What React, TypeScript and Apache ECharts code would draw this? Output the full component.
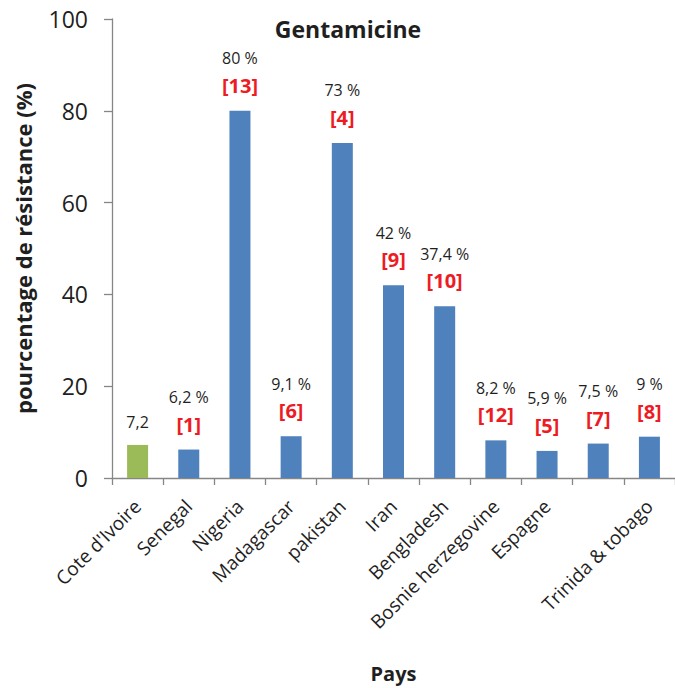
import React, { useEffect, useRef } from "react";
import * as echarts from "echarts";

const categories = [
  "Cote d'Ivoire",
  "Senegal",
  "Nigeria",
  "Madagascar",
  "pakistan",
  "Iran",
  "Bengladesh",
  "Bosnie herzegovine",
  "Espagne",
  "",
  "Trinida & tobago",
];
const values = [7.2, 6.2, 80, 9.1, 73, 42, 37.4, 8.2, 5.9, 7.5, 9];
const percentLabels = ["7,2", "6,2 %", "80 %", "9,1 %", "73 %", "42 %", "37,4 %", "8,2 %", "5,9 %", "7,5 %", "9 %"];
const refLabels = ["", "[1]", "[13]", "[6]", "[4]", "[9]", "[10]", "[12]", "[5]", "[7]", "[8]"];
const barColors = ["#9bbb59", "#4f81bd", "#4f81bd", "#4f81bd", "#4f81bd", "#4f81bd", "#4f81bd", "#4f81bd", "#4f81bd", "#4f81bd", "#4f81bd"];
const yTicks = { min: 0, max: 100, interval: 20 };

const FONT = "'Open Sans', 'Noto Sans', sans-serif";
const TEXT = "#1f1f1f";
const AXIS = "#868686";

export default function App() {
  const ref = useRef<HTMLDivElement>(null);
  useEffect(() => {
    if (!ref.current) return;
    const chart = echarts.init(ref.current, null, { renderer: "svg" });
    const data = values.map((v, i) => ({
      value: v,
      itemStyle: { color: barColors[i] },
      label: {
        show: true,
        position: "top",
        distance: refLabels[i] ? 12 : 9,
        formatter: refLabels[i] ? `{a|${percentLabels[i]}}\n{b|${refLabels[i]}}` : `{a|${percentLabels[i]}}`,
        rich: {
          a: { fontFamily: FONT, fontSize: 16, color: TEXT, lineHeight: 27 },
          b: { fontFamily: FONT, fontSize: 20, fontWeight: "bold", color: "#ed1c24", lineHeight: 27 },
        },
      },
    }));
    chart.setOption({
      animation: false,
      title: {
        text: "Gentamicine",
        left: 343,
        top: 12,
        textAlign: "center",
        textStyle: { fontFamily: FONT, fontSize: 23, fontWeight: "bold", color: TEXT },
      },
      grid: { left: 112, top: 19, width: 569, bottom: 210, containLabel: false },
      xAxis: {
        type: "category",
        data: categories,
        boundaryGap: true,
        name: "Pays",
        nameLocation: "middle",
        nameGap: 185,
        nameTextStyle: { fontFamily: FONT, fontSize: 20, fontWeight: "bold", color: TEXT },
        axisLine: { show: true, lineStyle: { color: AXIS, width: 1.3 } },
        axisTick: { show: true, length: 7, alignWithLabel: false, lineStyle: { color: AXIS, width: 1.3 } },
        axisLabel: {
          interval: 0,
          rotate: 45,
          margin: 25,
          fontFamily: FONT,
          fontSize: 19,
          color: TEXT,
        },
      },
      yAxis: {
        type: "value",
        min: yTicks.min,
        max: yTicks.max,
        interval: yTicks.interval,
        name: "pourcentage de résistance (%)",
        nameLocation: "middle",
        nameGap: 78,
        nameTextStyle: { fontFamily: FONT, fontSize: 22, fontWeight: "bold", color: TEXT },
        axisLine: { show: true, lineStyle: { color: AXIS, width: 1.3 } },
        axisTick: { show: true, length: 8, lineStyle: { color: AXIS, width: 1.3 } },
        splitLine: { show: false },
        axisLabel: { margin: 24, fontFamily: FONT, fontSize: 23, color: TEXT },
      },
      series: [
        {
          type: "bar",
          barWidth: 21,
          data,
        },
      ],
    });
    return () => chart.dispose();
  }, []);
  return <div ref={ref} style={{ position: "fixed", left: 0, top: 0, width: 675, height: 688, background: "#fff" }} />;
}
